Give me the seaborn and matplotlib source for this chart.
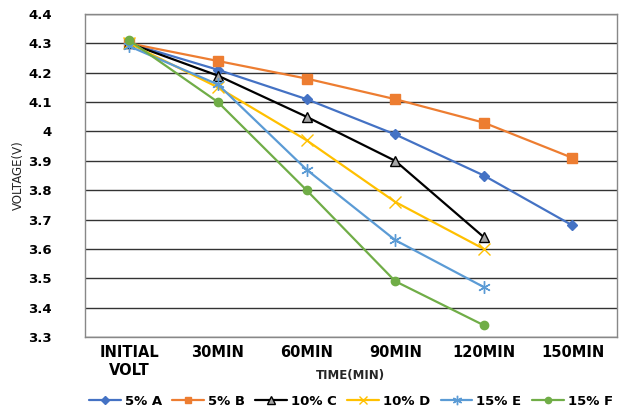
import pandas as pd
import numpy as np
import seaborn as sns
import matplotlib.pyplot as plt

# data
times = ["INITIAL\nVOLT", "30MIN", "60MIN", "90MIN", "120MIN", "150MIN"]
a5 = [4.30, 4.21, 4.11, 3.99, 3.85, 3.68]
b5 = [4.30, 4.24, 4.18, 4.11, 4.03, 3.91]
c10 = [4.30, 4.19, 4.05, 3.90, 3.64]
d10 = [4.30, 4.15, 3.97, 3.76, 3.60]
e15 = [4.29, 4.16, 3.87, 3.63, 3.47]
f15 = [4.31, 4.10, 3.80, 3.49, 3.34]

series = {"5% A": a5, "5% B": b5, "10% C": c10, "10% D": d10, "15% E": e15, "15% F": f15}
colors = {"5% A": "#4472C4", "5% B": "#ED7D31", "10% C": "#000000",
          "10% D": "#FFC000", "15% E": "#5B9BD5", "15% F": "#70AD47"}
markers = {"5% A": "D", "5% B": "s", "10% C": "^", "10% D": "x", "15% E": (6, 2, 0), "15% F": "o"}
msizes = {"5% A": 5, "5% B": 6.5, "10% C": 7, "10% D": 8, "15% E": 9, "15% F": 6}

rows = []
for name, vals in series.items():
    for t, v in zip(times, vals):
        rows.append({"time": t, "volt": v, "series": name})
df = pd.DataFrame(rows)

sns.set_style("white")
plt.rcParams["font.family"] = ["DejaVu Sans"]
plt.rcParams["text.color"] = "black"
plt.rcParams["xtick.color"] = "black"
plt.rcParams["ytick.color"] = "black"

fig = plt.figure(figsize=(6.3, 4.12), dpi=100)
ax = fig.add_axes([0.135, 0.182, 0.844, 0.784])

# register categories in order
ax.plot(times, [np.nan] * len(times))

for name in series:
    sub = df[df.series == name]
    face = "#A5A5A5" if name == "10% C" else colors[name]
    sns.lineplot(data=sub, x="time", y="volt", ax=ax, color=colors[name], marker=markers[name],
                 markersize=msizes[name], markerfacecolor=face,
                 markeredgecolor=colors[name],
                 markeredgewidth=1.0, linewidth=1.6, label=name, sort=False)

ax.set_ylim(3.3, 4.4)
ax.set_yticks(np.arange(3.3, 4.41, 0.1))
ax.set_yticklabels(["3.3", "3.4", "3.5", "3.6", "3.7", "3.8", "3.9", "4", "4.1", "4.2", "4.3", "4.4"])
ax.set_xlim(-0.5, 5.5)
ax.yaxis.grid(True, color="#333333", linewidth=1.0)
ax.set_axisbelow(True)
for s in ax.spines.values():
    s.set_color("#888888")
    s.set_linewidth(1.0)

ax.tick_params(axis="both", length=0)
for lbl in ax.get_yticklabels():
    lbl.set_fontweight("bold")
    lbl.set_fontsize(9.5)
ax.tick_params(axis="y", pad=24)
for lbl in ax.get_xticklabels():
    lbl.set_fontweight("bold")
    lbl.set_fontsize(10.5)
ax.tick_params(axis="x", pad=6)

ax.set_xlabel("TIME(MIN)", fontsize=8.5, fontweight="bold", labelpad=-6)
ax.set_ylabel("VOLTAGE(V)", fontsize=8.5, labelpad=2)

ax.legend(loc="center", bbox_to_anchor=(0.5, -0.2), ncol=6, frameon=False,
          prop={"weight": "bold", "size": 9.5}, handlelength=2.4, columnspacing=0.8,
          handletextpad=0.3, borderaxespad=0, markerscale=0.75)

fig.savefig("out.png", dpi=100)
